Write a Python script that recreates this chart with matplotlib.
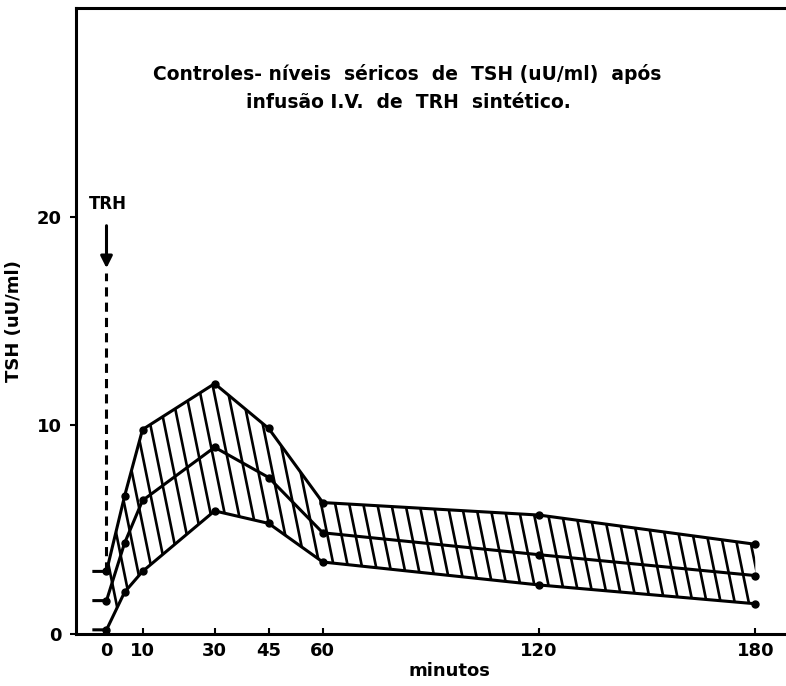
import numpy as np
import matplotlib
matplotlib.use("Agg")
import matplotlib.pyplot as plt
from matplotlib.patches import Polygon


# TSH values (uU/ml), per minute after TRH
minutes = [0, 5, 10, 30, 45, 60, 120, 180]
tsh_upper = [3.0, 6.6, 9.8, 12.0, 9.85, 6.3, 5.7, 4.3]
tsh_mean = [1.6, 4.35, 6.4, 8.95, 7.5, 4.85, 3.8, 2.8]
tsh_lower = [0.2, 2.0, 3.0, 5.9, 5.3, 3.45, 2.35, 1.45]

x_ticks = [0, 10, 30, 45, 60, 120, 180]
y_ticks = [0, 10, 20]

plt.rcParams['font.family'] = ['DejaVu Sans']
plt.rcParams['font.weight'] = 'bold'

fig = plt.figure(figsize=(7.86, 6.86), dpi=100)
ax = fig.add_axes([0.0967, 0.0758, 0.95, 0.9125])
ax.set_xlim(-8.46, 198.7)
ax.set_ylim(0, 30)

t = np.array(minutes, dtype=float)
up = np.array(tsh_upper)
mid = np.array(tsh_mean)
lo = np.array(tsh_lower)

# band with a short stub before time 0 (as in the original drawing)
t_band = np.r_[t[0] - 3.5, t]
up_band = np.r_[up[0], up]
lo_band = np.r_[lo[0], lo]
band = Polygon(np.c_[np.r_[t_band, t_band[::-1]], np.r_[up_band, lo_band[::-1]]],
               closed=True, facecolor='none', edgecolor='none')
ax.add_patch(band)

# steep hatching, clipped to the band
slope = 0.85
for x0 in np.arange(-12, 200, 3.9):
    hl, = ax.plot([x0, x0 + 14 / slope], [14, 0], color='black', lw=1.9,
                  solid_capstyle='butt')
    hl.set_clip_path(band)

ax.plot(t_band, up_band, color='black', lw=2.2)
ax.plot(t_band, np.r_[mid[0], mid], color='black', lw=2.2)
ax.plot(t_band, lo_band, color='black', lw=2.2)
for ys in (up, mid, lo):
    ax.plot(t, ys, 'o', color='black', markersize=5)

# TRH arrow and dashed line at time 0
ax.plot([0, 0], [up[0], 17.3], color='black', lw=2.2, linestyle=(0, (3, 2)))
ax.annotate('', xy=(0, 17.4), xytext=(0, 19.7),
            arrowprops=dict(arrowstyle='-|>,head_width=0.35,head_length=0.7',
                            color='black', lw=2.2))
ax.text(0.5, 20.6, 'TRH', ha='center', va='center', fontsize=12, fontweight='bold')

ax.set_xticks(x_ticks)
ax.set_xticklabels([str(v) for v in x_ticks], fontsize=13, fontweight='bold')
ax.set_yticks(y_ticks)
ax.set_yticklabels([str(v) for v in y_ticks], fontsize=13, fontweight='bold')
ax.tick_params(axis='x', direction='in', length=4, width=1.5, pad=6)
ax.tick_params(axis='y', direction='out', length=4, width=1.5, pad=6)

for side in ('left', 'bottom', 'top'):
    ax.spines[side].set_linewidth(2.2)
ax.spines['right'].set_visible(False)

ax.set_xlabel('minutos', fontsize=13, fontweight='bold', labelpad=1)
ax.set_ylabel('TSH (uU/ml)', fontsize=13, fontweight='bold', labelpad=10)

ax.text(0.444, 0.895, 'Controles- níveis  séricos  de  TSH (uU/ml)  após',
        transform=ax.transAxes, ha='center', va='center', fontsize=13.5, fontweight='bold')
ax.text(0.445, 0.849, 'infusão I.V.  de  TRH  sintético.',
        transform=ax.transAxes, ha='center', va='center', fontsize=13.5, fontweight='bold')

fig.savefig('out.png', dpi=100)
